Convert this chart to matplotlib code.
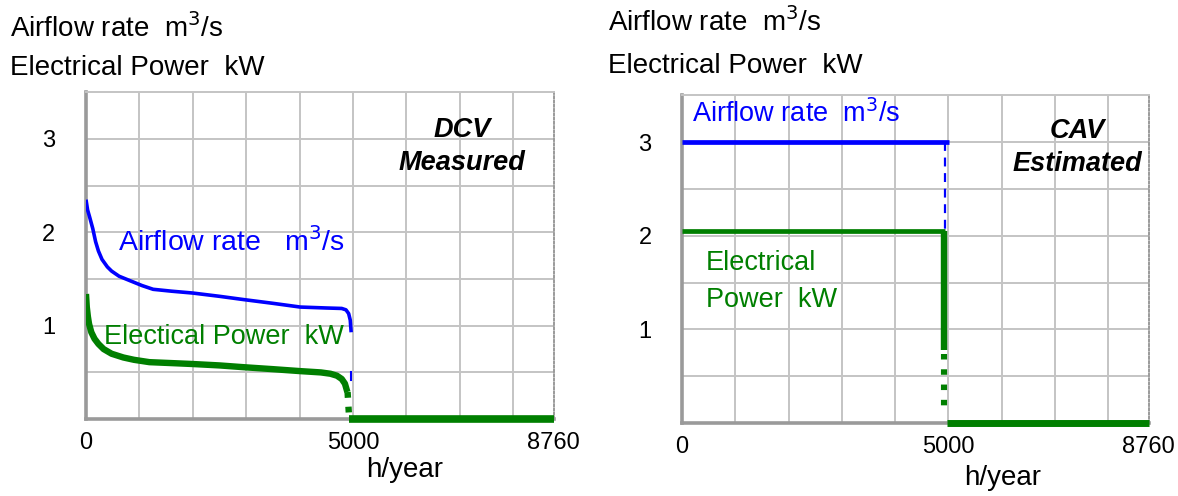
import matplotlib.pyplot as plt

plt.rcParams["font.family"] = ["Liberation Sans", "DejaVu Sans"]

BLUE = "#0000ff"
GREEN = "#007f00"
GRID = "#c4c4c4"
SPINE = "#9a9a9a"

# DCV measured: duration curves (hours per year, value)
dcv_air_hours = [0, 30, 70, 127, 180, 233, 300, 400, 480, 620, 834, 1050, 1258, 1600,
                 2000, 2500, 2953, 3500, 4013, 4500, 4790, 4870, 4920, 4950, 4967]
dcv_air_values = [2.35, 2.24, 2.16, 2.04, 1.90, 1.80, 1.71, 1.63, 1.585, 1.53, 1.48, 1.43,
                  1.39, 1.37, 1.35, 1.315, 1.28, 1.24, 1.20, 1.19, 1.185, 1.17, 1.13, 1.06, 0.93]
dcv_air_tail_hours = [4965, 4965]
dcv_air_tail_values = [0.42, 0.50]

dcv_power_hours = [0, 15, 35, 57, 100, 160, 233, 330, 480, 700, 900, 1187, 1600, 2000,
                   2500, 2953, 3500, 4013, 4400, 4578, 4700, 4790, 4850, 4896]
dcv_power_values = [1.34, 1.20, 1.10, 1.02, 0.93, 0.86, 0.805, 0.75, 0.70, 0.66, 0.635,
                    0.61, 0.60, 0.59, 0.575, 0.556, 0.535, 0.514, 0.50, 0.486, 0.465,
                    0.43, 0.38, 0.29]
dcv_power_drop_hours = [4900, 4930]
dcv_power_drop_values = [0.29, 0.0]
dcv_power_off_hours = [4930, 8760]
dcv_power_off_values = [0.0, 0.0]

# CAV estimated
cav_air_hours = [0, 5015]
cav_air_values = [3.0, 3.0]
cav_air_drop_hours = [4946, 4946]
cav_air_drop_values = [3.0, 2.05]

cav_power_hours = [0, 4946]
cav_power_values = [2.05, 2.05]
cav_power_fall_hours = [4911, 4911]
cav_power_fall_values = [2.05, 0.78]
cav_power_drop_hours = [4911, 4911]
cav_power_drop_values = [0.74, 0.10]
cav_power_off_hours = [4980, 8760]
cav_power_off_values = [0.0, 0.0]

x_ticks = [0, 5000, 8760]
y_ticks = [1, 2, 3]
x_grid = [1000, 2000, 3000, 4000, 5000, 6000, 7000, 8000]
y_grid = [0.5, 1.0, 1.5, 2.0, 2.5, 3.0]


def style_axis(ax):
    ax.set_xlim(0, 8760)
    ax.set_ylim(0, 3.5)
    for x in x_grid:
        ax.axvline(x, color=GRID, linewidth=1.4, zorder=0)
    for y in y_grid:
        ax.axhline(y, color=GRID, linewidth=1.4, zorder=0)
    ax.set_xticks(x_ticks)
    ax.set_xticklabels([str(t) for t in x_ticks])
    ax.set_yticks(y_ticks)
    ax.set_yticklabels([str(t) for t in y_ticks])
    ax.tick_params(length=0, labelsize=17)
    ax.tick_params(axis="x", pad=9)
    ax.tick_params(axis="y", pad=22)
    for side in ["left", "bottom"]:
        ax.spines[side].set_color(SPINE)
        ax.spines[side].set_linewidth(2.6)
    ax.spines["top"].set_color(GRID)
    ax.spines["top"].set_linewidth(1.4)
    ax.spines["right"].set_color(SPINE)
    ax.spines["right"].set_linewidth(1.4)
    ax.spines["right"].set_linestyle((0, (1, 1.2)))


fig = plt.figure(figsize=(11.78, 4.96), dpi=100)
ax_dcv = fig.add_axes([0.073, 0.155, 0.397, 0.659])
ax_cav = fig.add_axes([0.579, 0.147, 0.396, 0.661])

label_size = 19.5
header_size = 20

style_axis(ax_dcv)
ax_dcv.plot(dcv_air_hours, dcv_air_values, color=BLUE, linewidth=2.6,
            solid_capstyle="butt", zorder=3)
ax_dcv.plot(dcv_air_tail_hours, dcv_air_tail_values, color=BLUE, linewidth=1.5, zorder=3)
ax_dcv.plot(dcv_power_hours, dcv_power_values, color=GREEN, linewidth=4.6,
            solid_capstyle="butt", zorder=3)
ax_dcv.plot(dcv_power_drop_hours, dcv_power_drop_values, color=GREEN, linewidth=4.6,
            linestyle=(0, (0.9, 1.4)), zorder=3)
ax_dcv.plot(dcv_power_off_hours, dcv_power_off_values, color=GREEN, linewidth=5.5,
            solid_capstyle="butt", zorder=3, clip_on=False)
ax_dcv.text(600, 1.90, "Airflow rate   m$^3$/s", color=BLUE, fontsize=20.5, va="center")
ax_dcv.text(337, 0.88, "Electical Power  kW", color=GREEN, fontsize=label_size, va="center")
ax_dcv.text(7040, 3.10, "DCV", fontsize=label_size, fontweight="bold", fontstyle="italic",
            ha="center", va="center")
ax_dcv.text(7040, 2.74, "Measured", fontsize=label_size, fontweight="bold",
            fontstyle="italic", ha="center", va="center")

style_axis(ax_cav)
ax_cav.plot(cav_air_hours, cav_air_values, color=BLUE, linewidth=3.4,
            solid_capstyle="butt", zorder=3)
ax_cav.plot(cav_air_drop_hours, cav_air_drop_values, color=BLUE, linewidth=1.6,
            linestyle=(0, (4, 3)), zorder=3)
ax_cav.plot(cav_power_hours, cav_power_values, color=GREEN, linewidth=3.4,
            solid_capstyle="butt", zorder=3)
ax_cav.plot(cav_power_fall_hours, cav_power_fall_values, color=GREEN, linewidth=4.6,
            solid_capstyle="butt", zorder=3)
ax_cav.plot(cav_power_drop_hours, cav_power_drop_values, color=GREEN, linewidth=4.4,
            linestyle=(0, (0.9, 1.6)), zorder=3)
ax_cav.plot(cav_power_off_hours, cav_power_off_values, color=GREEN, linewidth=5.0,
            solid_capstyle="butt", zorder=3, clip_on=False)
ax_cav.text(190, 3.30, "Airflow rate  m$^3$/s", color=BLUE, fontsize=label_size, va="center")
ax_cav.text(450, 1.71, "Electrical", color=GREEN, fontsize=label_size, va="center")
ax_cav.text(450, 1.31, "Power  kW", color=GREEN, fontsize=label_size, va="center")
ax_cav.text(7420, 3.12, "CAV", fontsize=label_size, fontweight="bold", fontstyle="italic",
            ha="center", va="center")
ax_cav.text(7420, 2.77, "Estimated", fontsize=label_size, fontweight="bold",
            fontstyle="italic", ha="center", va="center")

# headers and axis titles
fig.text(10 / 1178, 1 - 28 / 496, "Airflow rate  m$^3$/s", fontsize=header_size, va="center")
fig.text(10 / 1178, 1 - 68 / 496, "Electrical Power  kW", fontsize=header_size, va="center")
fig.text(608 / 1178, 1 - 22 / 496, "Airflow rate  m$^3$/s", fontsize=header_size, va="center")
fig.text(608 / 1178, 1 - 66 / 496, "Electrical Power  kW", fontsize=header_size, va="center")
fig.text(405 / 1178, 1 - 470 / 496, "h/year", fontsize=header_size, ha="center", va="center")
fig.text(1003 / 1178, 1 - 478 / 496, "h/year", fontsize=header_size, ha="center", va="center")

fig.savefig("out.png", dpi=100)
